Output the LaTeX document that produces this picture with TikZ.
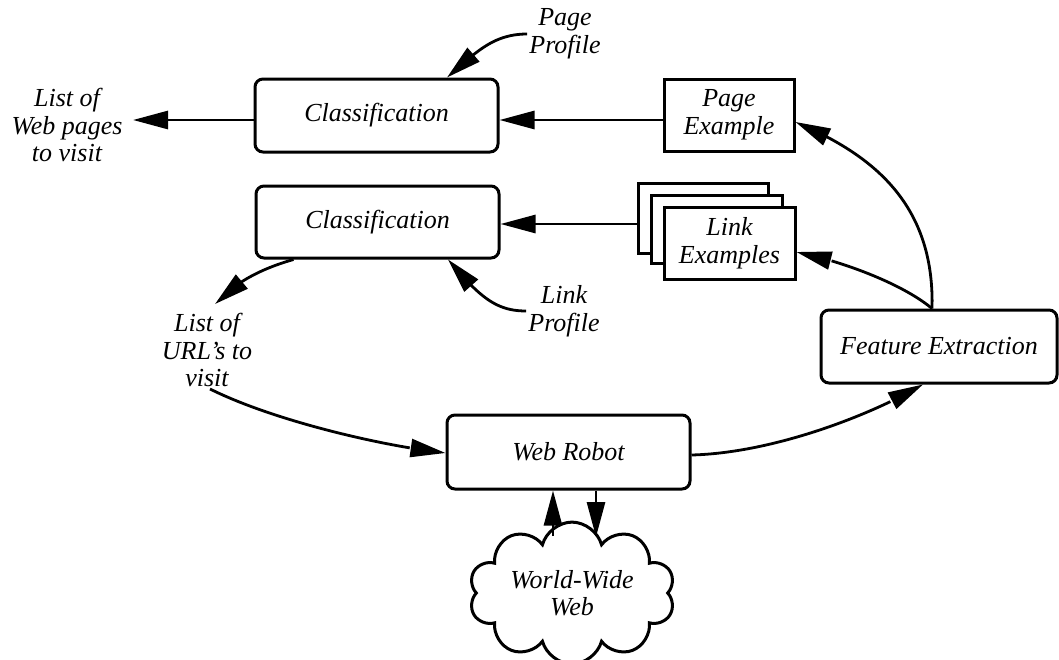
\documentclass[tikz,border=0pt]{standalone}
\usepackage{fontspec}
\setmainfont{Liberation Serif}
\usetikzlibrary{arrows.meta,bending,shapes.symbols}
\tikzset{
  rbox/.style={draw, line width=3pt, rounded corners=8pt, fill=white, inner sep=2pt, align=center},
  sbox/.style={draw, line width=3pt, fill=white, inner sep=2pt, align=center},
  lbl/.style={align=center, inner sep=2pt},
  arr/.style={line width=2.8pt, -{Triangle[length=35pt,width=18pt]}},
}
\begin{document}
\begin{tikzpicture}[x=1pt,y=-1pt,font=\fontsize{26}{27.5}\selectfont\itshape]
\useasboundingbox (0,0) rectangle (1059,659);
% boxes
\node[rbox, minimum width=243pt, minimum height=73pt] (cls1) at (376.5,115.5) {Classification};
\node[rbox, minimum width=243pt, minimum height=72pt] (cls2) at (377.5,222) {Classification};
\node[sbox, minimum width=130pt, minimum height=72pt] (pex) at (729,115) {Page\\Example};
\node[sbox, minimum width=130pt, minimum height=70pt] (lexc) at (703,218) {};
\node[sbox, minimum width=131pt, minimum height=68pt] (lexb) at (716.5,229) {};
\node[sbox, minimum width=131pt, minimum height=72pt] (lex) at (729.5,243) {Link\\Examples};
\node[rbox, minimum width=236pt, minimum height=73pt] (fe) at (939,346.5) {Feature Extraction};
\node[rbox, minimum width=243pt, minimum height=74pt] (robot) at (568.5,452) {Web Robot};
\node[cloud, draw, line width=3pt, cloud puffs=10, cloud puff arc=150, aspect=1.65, minimum width=206pt, minimum height=124pt, inner sep=0pt, align=center] (www) at (572,593) {World-Wide\\Web};
% labels
\node[lbl] (weblist) at (67,125) {List of\\Web pages\\to visit};
\node[lbl] (pprof) at (565,34) {Page\\Profile};
\node[lbl] (lprof) at (564,311) {Link\\Profile};
\node[lbl] (urls) at (207,350) {List of\\URL's to\\visit};
% free ends
\coordinate (wl) at (133,120);
\coordinate (wu) at (553,536);
\coordinate (wd) at (596,537);
% connectors
\draw[arr] ([yshift=-4.5pt]cls1.west) -- (wl);
\draw[arr] ([yshift=-5pt]pex.west) -- ([yshift=-4.5pt]cls1.east);
\draw[arr] ([yshift=-6pt]lexc.west) -- ([yshift=-2pt]cls2.east);
\draw[arr] (pprof.west) .. controls +(-35,0) and +(28,-24) .. ([xshift=70.5pt]cls1.north);
\draw[arr] (lprof.west) .. controls +(-30,0) and +(32,38) .. ([xshift=70.5pt]cls2.south);
\draw[arr] ([xshift=39pt]cls2.south west) .. controls +(-28,8) and +(22,-24) .. ([xshift=8pt,yshift=7pt]urls.north);
\draw[arr] ([xshift=3pt]urls.south) .. controls +(60,30) and +(-70,-8) .. ([yshift=-1pt]robot.west);
\draw[arr] ([yshift=-3pt]robot.east) .. controls +(80,-2) and +(-55,32) .. ([xshift=-16pt]fe.south);
\draw[arr] ([xshift=-7pt]fe.north) .. controls +(3,-110) and +(70,30) .. ([yshift=-7pt]pex.east);
\draw[arr] ([xshift=-7pt]fe.north) .. controls +(-30,-25) and +(45,9) .. ([yshift=-9pt]lex.east);
\draw[arr] (wu) -- (wu |- robot.south);
\draw[arr] (wd |- robot.south) -- (wd);
\end{tikzpicture}
\end{document}
